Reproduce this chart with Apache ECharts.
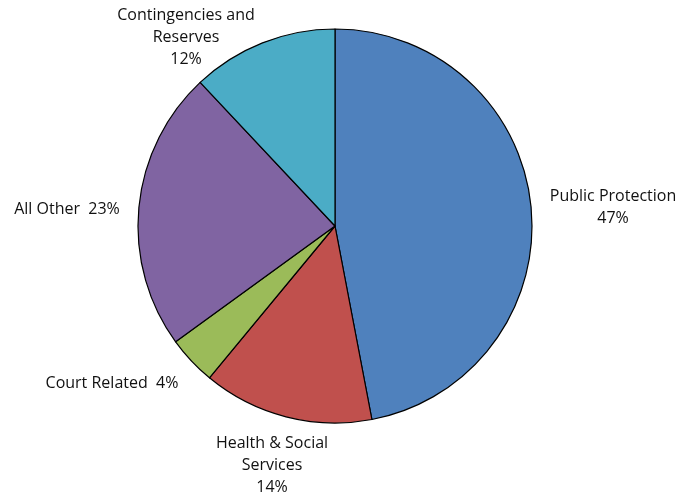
<!DOCTYPE html>
<html><head><meta charset="utf-8">
<script src="https://cdn.jsdelivr.net/npm/echarts@6/dist/echarts.min.js"></script>
<style>html,body{margin:0;padding:0;background:#fff}#c{width:694px;height:498px}</style>
</head><body><div id="c"></div>
<script>
const categories = ["Public Protection", "Health & Social Services", "Court Related", "All Other", "Contingencies and Reserves"];
const values = [47, 14, 4, 23, 12];
const labelTexts = ["Public Protection\n47%", "Health & Social\nServices\n14%", "Court Related  4%", "All Other  23%", "Contingencies and\nReserves\n12%"];
const colors = ["#4F81BD", "#C0504D", "#9BBB59", "#8064A2", "#4BACC6"];
const labelPos = [[613, 207], [272, 465], [112, 383], [67, 209], [186, 37]];

const chart = echarts.init(document.getElementById('c'), null, {renderer: 'canvas'});
chart.setOption({
  animation: false,
  backgroundColor: '#fff',
  series: [{
    type: 'pie',
    center: [335, 226],
    radius: 197,
    startAngle: 90,
    clockwise: true,
    avoidLabelOverlap: false,
    data: categories.map((n, i) => ({name: n, value: values[i], itemStyle: {color: colors[i]}})),
    itemStyle: {borderColor: '#000', borderWidth: 1.2},
    label: {
      show: true,
      position: 'outside',
      formatter: p => labelTexts[p.dataIndex],
      fontFamily: 'Open Sans',
      fontSize: 16,
      lineHeight: 22,
      color: '#111',
      align: 'center'
    },
    labelLine: {show: false},
    labelLayout: p => ({x: labelPos[p.dataIndex][0], y: labelPos[p.dataIndex][1], align: 'center', verticalAlign: 'middle'})
  }]
});
</script></body></html>
